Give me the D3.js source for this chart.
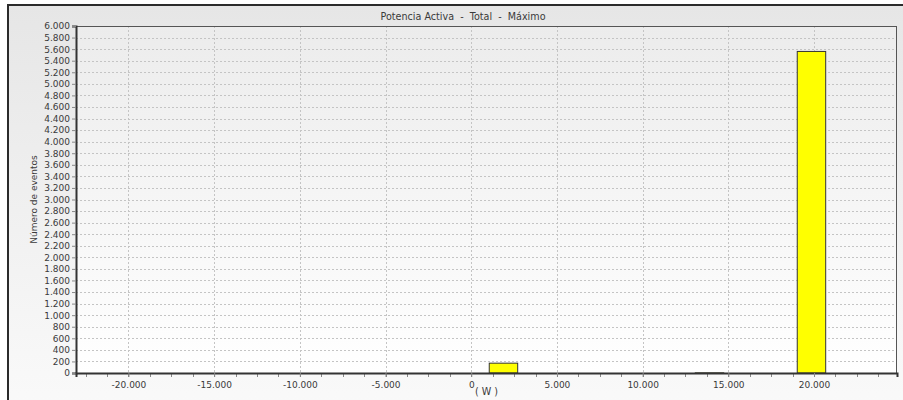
<!DOCTYPE html>
<html>
<head>
<meta charset="utf-8">
<script src="https://cdn.jsdelivr.net/npm/d3@7"></script>
<style>
  html, body { margin: 0; padding: 0; background: #f4f4f4; }
  svg { display: block; }
  text { font-family: "DejaVu Sans", Verdana, sans-serif; fill: #3a3a3a; }
</style>
</head>
<body>
<svg id="chart" width="903" height="400"></svg>
<script>
// Histogram bins: lower edge, upper edge (W) and event count
const binStart = [1050, 13070, 19020];
const binEnd   = [2710, 14730, 20680];
const counts   = [170, 3, 5560];

const xTicks = [-20000, -15000, -10000, -5000, 0, 5000, 10000, 15000, 20000];
const yTicks = d3.range(0, 6001, 200);

const chartTitle = "Potencia Activa  -  Total  -  Máximo";
const yTitle = "Número de eventos";
const xTitle = "( W )";

const W = 903, H = 400;
const margin = { top: 26, right: 6, bottom: 27, left: 76 };
const iw = W - margin.left - margin.right;
const ih = H - margin.top - margin.bottom;

const svg = d3.select("#chart");
const defs = svg.append("defs");

const bgGrad = defs.append("linearGradient").attr("id", "bgGrad")
  .attr("x1", 0).attr("y1", 0).attr("x2", 0).attr("y2", 1);
bgGrad.append("stop").attr("offset", "0%").attr("stop-color", "#e6e6e6");
bgGrad.append("stop").attr("offset", "100%").attr("stop-color", "#fafafa");

const plotGrad = defs.append("linearGradient").attr("id", "plotGrad")
  .attr("x1", 0).attr("y1", 0).attr("x2", 0).attr("y2", 1);
plotGrad.append("stop").attr("offset", "0%").attr("stop-color", "#ececec");
plotGrad.append("stop").attr("offset", "100%").attr("stop-color", "#ffffff");

// Panel background and frame
svg.append("rect").attr("x", 0).attr("y", 0).attr("width", W).attr("height", H)
  .attr("fill", "#ffffff");
svg.append("rect").attr("x", 8).attr("y", 5).attr("width", W + 10).attr("height", H + 10)
  .attr("fill", "url(#bgGrad)").attr("stroke", "#2b2b2b").attr("stroke-width", 2);

const x = d3.scaleLinear().domain([-23060, 24840]).range([0, iw]);
const y = d3.scaleLinear().domain([0, 6000]).range([ih, 0]);

const g = svg.append("g").attr("transform", `translate(${margin.left},${margin.top})`);

g.append("rect").attr("width", iw).attr("height", ih).attr("fill", "url(#plotGrad)");

// Grid lines
g.append("g").selectAll("line").data(yTicks.filter(d => d > 0)).join("line")
  .attr("x1", 0).attr("x2", iw)
  .attr("y1", d => Math.round(y(d)) + 0.5).attr("y2", d => Math.round(y(d)) + 0.5)
  .attr("stroke", "#c4c4c4").attr("stroke-width", 1).attr("stroke-dasharray", "2,2");
g.append("g").selectAll("line").data(xTicks).join("line")
  .attr("x1", d => Math.round(x(d)) + 0.5).attr("x2", d => Math.round(x(d)) + 0.5)
  .attr("y1", 0).attr("y2", ih)
  .attr("stroke", "#c4c4c4").attr("stroke-width", 1).attr("stroke-dasharray", "2,2");

// Bars
g.append("g").selectAll("rect").data(counts).join("rect")
  .attr("x", (d, i) => x(binStart[i]))
  .attr("width", (d, i) => x(binEnd[i]) - x(binStart[i]))
  .attr("y", d => y(d))
  .attr("height", d => y(0) - y(d))
  .attr("fill", "#ffff00").attr("stroke", "#333333").attr("stroke-width", 1);

// Plot border
g.append("rect").attr("x", 0.5).attr("y", 0.5).attr("width", iw - 1).attr("height", ih)
  .attr("fill", "none").attr("stroke", "#555555").attr("stroke-width", 1);

// Y axis
const yAxis = g.append("g")
  .call(d3.axisLeft(y).tickValues(yTicks).tickSize(4).tickPadding(2)
    .tickFormat(d => d3.format(",")(d).replace(/,/g, ".")));
yAxis.select(".domain").attr("stroke", "#333").attr("stroke-width", 2);
yAxis.selectAll(".tick line").attr("stroke", "#888");
yAxis.selectAll("text").attr("font-size", 9).attr("fill", "#3a3a3a")
  .style("font-family", "'DejaVu Sans', Verdana, sans-serif");

// X axis: major ticks with labels, minor ticks in between
const minor = d3.range(-22500, 24840, 1250);
g.append("g").attr("transform", `translate(0,${ih})`).selectAll("line").data(minor).join("line")
  .attr("x1", d => Math.round(x(d)) + 0.5).attr("x2", d => Math.round(x(d)) + 0.5)
  .attr("y1", 0).attr("y2", 4).attr("stroke", "#888");
const xAxis = g.append("g").attr("transform", `translate(0,${ih})`)
  .call(d3.axisBottom(x).tickValues(xTicks).tickSize(4).tickPadding(5)
    .tickFormat(d => d3.format(",")(d).replace(/,/g, ".").replace("−", "-")));
xAxis.select(".domain").attr("stroke", "#333").attr("stroke-width", 2);
xAxis.selectAll(".tick line").attr("stroke", "#888");
xAxis.selectAll("text").attr("font-size", 9).attr("fill", "#3a3a3a")
  .style("font-family", "'DejaVu Sans', Verdana, sans-serif");

// Titles
svg.append("text").attr("x", 463).attr("y", 20).attr("text-anchor", "middle")
  .attr("font-size", 9.6).style("white-space", "pre").attr("xml:space", "preserve")
  .text(chartTitle);
svg.append("text").attr("transform", `translate(37,${margin.top + ih / 2}) rotate(-90)`)
  .attr("text-anchor", "middle").attr("font-size", 9).text(yTitle);
svg.append("text").attr("x", margin.left + iw / 2).attr("y", 395)
  .attr("text-anchor", "middle").attr("font-size", 9.6).style("white-space", "pre")
  .text(xTitle);
</script>
</body>
</html>
